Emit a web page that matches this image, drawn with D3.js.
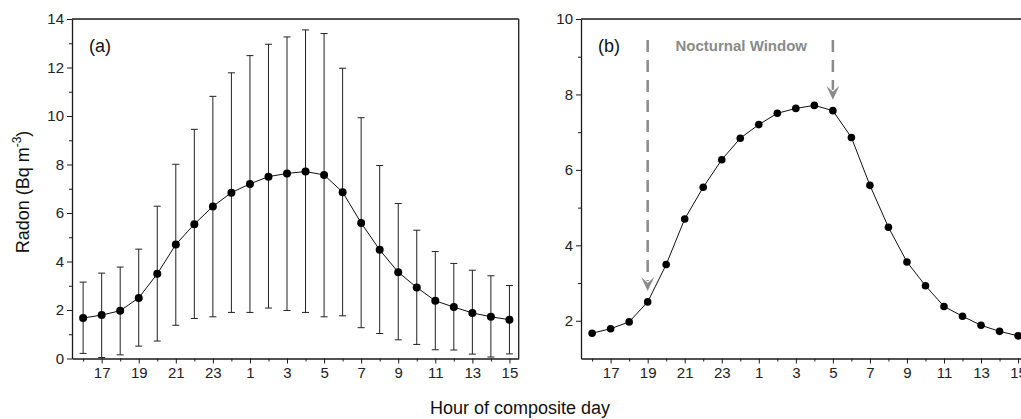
<!DOCTYPE html>
<html><head><meta charset="utf-8">
<script src="https://cdn.jsdelivr.net/npm/d3@7"></script>
<style>
body{margin:0;background:#fff;}
text{font-family:"Liberation Sans",Arial,sans-serif;}
</style></head>
<body>
<svg id="c" width="1021" height="419"></svg>
<script>
const hours = [16,17,18,19,20,21,22,23,0,1,2,3,4,5,6,7,8,9,10,11,12,13,14,15];
const means = [1.67,1.79,1.97,2.50,3.49,4.70,5.54,6.27,6.84,7.20,7.50,7.63,7.71,7.57,6.86,5.59,4.48,3.56,2.93,2.38,2.12,1.88,1.72,1.60];
const upper = [3.15,3.52,3.77,4.51,6.28,8.01,9.45,10.81,11.78,12.49,12.96,13.26,13.55,13.40,11.97,9.93,7.96,6.39,5.29,4.41,3.92,3.64,3.41,3.01];
const lower = [0.21,0.04,0.15,0.51,0.72,1.37,1.65,1.72,1.90,1.90,2.08,1.98,1.90,1.72,1.76,1.27,1.03,0.77,0.58,0.36,0.35,0.18,0.06,0.19];
const yTicksA = [0,2,4,6,8,10,12,14];
const yTicksB = [2,4,6,8,10];
const windowStart = 19, windowEnd = 5;
const windowLabel = "Nocturnal Window";

const svg = d3.select("#c");
const idx = d3.range(hours.length);
const plotTop = 19, plotBottom = 358.5;
const axisColor = "#1a1a1a";
const tickFont = 15;

function panel(x0, x1, yDomain, yTicks, showErr, label, r, drawRight) {
  const x = d3.scaleLinear().domain([-0.6, 23.5]).range([x0, x1]);
  const y = d3.scaleLinear().domain(yDomain).range([plotBottom, plotTop]);
  const g = svg.append("g");
  const minorY = d3.range(yDomain[0], yDomain[1] + 0.001, 1).filter(v => !yTicks.includes(v) && v > yDomain[0]);
  g.append("g").attr("transform", `translate(${x0},0)`)
    .call(d3.axisLeft(y).tickValues(minorY).tickSize(3).tickFormat(""))
    .call(a => a.select(".domain").remove())
    .selectAll("line").attr("stroke", axisColor);
  const ya = g.append("g").attr("transform", `translate(${x0},0)`)
    .call(d3.axisLeft(y).tickValues(yTicks).tickSize(5).tickSizeOuter(0).tickPadding(3));
  ya.select(".domain").attr("stroke", axisColor).attr("stroke-width", 1.3);
  ya.selectAll("line").attr("stroke", axisColor);
  ya.selectAll("text").attr("font-size", tickFont).attr("fill", "#222").attr("font-family", "Liberation Sans, Arial, sans-serif");
  const major = idx.filter(i => hours[i] % 2 === 1);
  const minor = idx.filter(i => hours[i] % 2 === 0);
  g.append("g").attr("transform", `translate(0,${plotBottom})`)
    .call(d3.axisBottom(x).tickValues(minor).tickSize(3).tickFormat(""))
    .call(a => a.select(".domain").remove())
    .selectAll("line").attr("stroke", axisColor);
  const xa = g.append("g").attr("transform", `translate(0,${plotBottom})`)
    .call(d3.axisBottom(x).tickValues(major).tickSize(5).tickSizeOuter(0).tickPadding(4).tickFormat(i => hours[i]));
  xa.select(".domain").attr("stroke", axisColor).attr("stroke-width", 1.3);
  xa.selectAll("line").attr("stroke", axisColor);
  xa.selectAll("text").attr("font-size", tickFont).attr("fill", "#222").attr("font-family", "Liberation Sans, Arial, sans-serif");
  g.append("line").attr("x1", x0).attr("x2", x1).attr("y1", plotTop).attr("y2", plotTop)
    .attr("stroke", axisColor).attr("stroke-width", 1.3);
  if (drawRight) g.append("line").attr("x1", x1).attr("x2", x1).attr("y1", plotTop).attr("y2", plotBottom)
    .attr("stroke", axisColor).attr("stroke-width", 1.3);
  if (showErr) {
    const eb = g.append("g").attr("stroke", "#222").attr("stroke-width", 1);
    idx.forEach(i => {
      eb.append("line").attr("x1", x(i)).attr("x2", x(i)).attr("y1", y(upper[i])).attr("y2", y(lower[i]));
      eb.append("line").attr("x1", x(i) - 3.5).attr("x2", x(i) + 3.5).attr("y1", y(upper[i])).attr("y2", y(upper[i]));
      eb.append("line").attr("x1", x(i) - 3.5).attr("x2", x(i) + 3.5).attr("y1", y(lower[i])).attr("y2", y(lower[i]));
    });
  }
  g.append("path").datum(idx)
    .attr("d", d3.line().x(i => x(i)).y(i => y(means[i])))
    .attr("fill", "none").attr("stroke", "#111").attr("stroke-width", 1);
  g.selectAll("circle.pt").data(idx).enter().append("circle")
    .attr("cx", i => x(i)).attr("cy", i => y(means[i])).attr("r", r).attr("fill", "#000");
  g.append("text").attr("x", x0 + 17).attr("y", plotTop + 33).attr("font-size", 18).attr("fill", "#111").text(label);
  return {x, y, g};
}

panel(72, 518.7, [0, 14], yTicksA, true, "(a)", 4, true);
const pb = panel(581, 581 + (24.1) * 18.52, [1, 10], yTicksB, false, "(b)", 3.8, false);

const grey = "#8a8a8a";
[windowStart, windowEnd].forEach(h => {
  const i = hours.indexOf(h);
  const xx = pb.x(i);
  const tip = pb.y(means[i]) - 11;
  pb.g.append("line").attr("x1", xx).attr("x2", xx).attr("y1", 40).attr("y2", tip - 10)
    .attr("stroke", grey).attr("stroke-width", 2.5).attr("stroke-dasharray", "12,8");
  pb.g.append("path")
    .attr("d", `M${xx - 6.5},${tip - 14} L${xx},${tip - 8} L${xx + 6.5},${tip - 14} L${xx},${tip} Z`)
    .attr("fill", grey);
});
pb.g.append("text").attr("x", (pb.x(hours.indexOf(windowStart)) + pb.x(hours.indexOf(windowEnd))) / 2 + 1)
  .attr("y", 51).attr("text-anchor", "middle").attr("font-size", 15).attr("font-weight", "bold")
  .attr("fill", grey).text(windowLabel);

const yl = svg.append("text").attr("transform", "translate(29,192) rotate(-90)")
  .attr("text-anchor", "middle").attr("font-size", 18).attr("fill", "#111");
yl.append("tspan").text("Radon (Bq m");
yl.append("tspan").attr("dy", -8).attr("font-size", 12).text("-3");
yl.append("tspan").attr("dy", 8).text(")");
svg.append("text").attr("x", 520).attr("y", 414).attr("text-anchor", "middle")
  .attr("font-size", 18).attr("fill", "#111").text("Hour of composite day");
</script>
</body></html>
